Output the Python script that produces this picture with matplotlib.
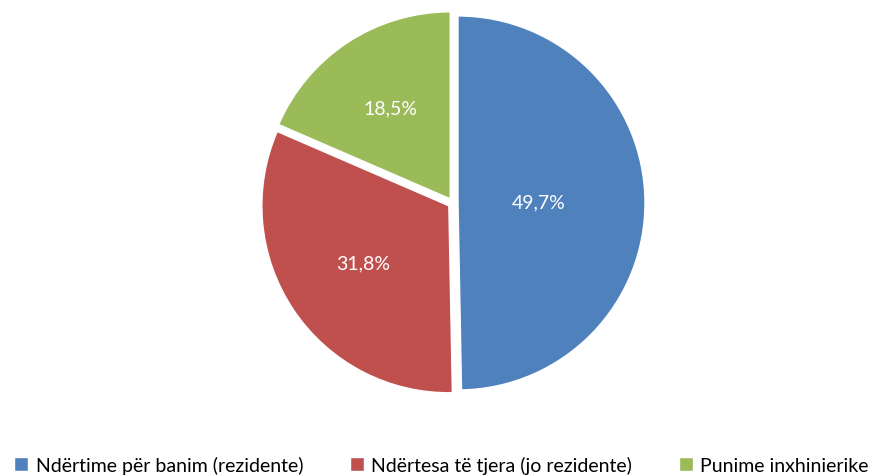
import numpy as np
import matplotlib.pyplot as plt

plt.rcParams['font.family'] = ['Lato', 'DejaVu Sans']

labels = ['Ndërtime për banim (rezidente)', 'Ndërtesa të tjera (jo rezidente)', 'Punime inxhinierike']
values = [49.7, 31.8, 18.5]
colors = ['#4F81BD', '#C0504D', '#9BBB59']
pct_dist = [0.43, 0.55, 0.58]

fig = plt.figure(figsize=(8.71, 4.77), dpi=100)
ax = fig.add_axes([0, 0, 1, 1])
ax.set_xlim(0, 871)
ax.set_ylim(0, 477)
ax.set_aspect('equal')
ax.axis('off')

R = 187
wedges, _ = ax.pie(values, colors=colors, startangle=90, counterclock=False,
                   center=(453, 273), radius=R, explode=[5, 5, 5],
                   wedgeprops=dict(edgecolor='white', linewidth=1))
ax.set_xlim(0, 871)
ax.set_ylim(0, 477)

for w, v, d in zip(wedges, values, pct_dist):
    ang = np.deg2rad((w.theta1 + w.theta2) / 2)
    cx, cy = w.center
    ax.text(cx + d * R * np.cos(ang), cy + d * R * np.sin(ang),
            f'{v:.1f}%'.replace('.', ','), color='white', fontsize=14,
            ha='center', va='center')

fig.legend(wedges, labels, loc='center', bbox_to_anchor=(0.507, 0.023),
           ncol=3, frameon=False, fontsize=14, handlelength=0.7,
           handleheight=0.7, handletextpad=0.4, columnspacing=2.4)

fig.savefig('out.png', dpi=100)
